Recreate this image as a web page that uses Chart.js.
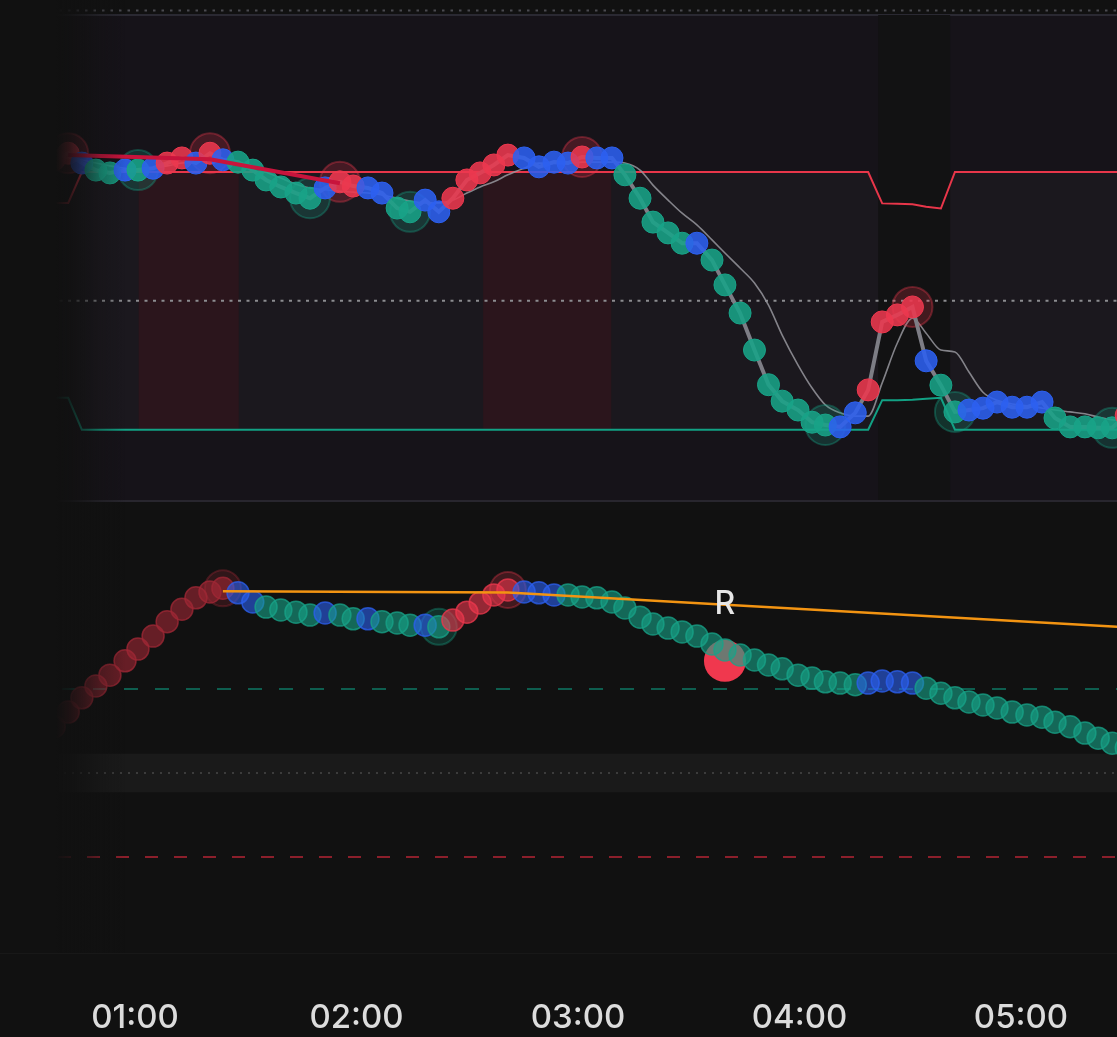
<!DOCTYPE html>
<html>
<head>
<meta charset="utf-8">
<script src="https://cdn.jsdelivr.net/npm/chart.js@4.4.0/dist/chart.umd.min.js"></script>
<style>
  html, body { margin: 0; padding: 0; background: #111111; }
  #wrap { position: relative; width: 1117px; height: 1037px; overflow: hidden; }
  #top_chart { position: absolute; left: 0; top: 0; }
  #bottom_chart { position: absolute; left: 0; top: 500px; }
  /* left edge fade, like the app does */
  #fade { position: absolute; left: 0; top: 0; width: 140px; height: 953px; z-index: 2;
    background: linear-gradient(to right, #111111 0px, #111111 56px, rgba(17,17,17,0.88) 68px,
      rgba(17,17,17,0.65) 82px, rgba(17,17,17,0.3) 100px, rgba(17,17,17,0) 125px); }
</style>
</head>
<body>
<div id="wrap">
  <canvas id="top_chart" width="1117" height="500"></canvas>
  <canvas id="bottom_chart" width="1117" height="537"></canvas>
  <div id="fade"></div>
</div>
<script>
//Bar times (minutes after 00:00)
var times = [38.1, 41.9, 45.6, 49.4, 53.2, 57.3, 60.8, 64.9, 68.7, 72.7,
  76.5, 80.3, 83.8, 87.9, 91.9, 95.5, 99.5, 103.6, 107.4, 111.5,
  115.5, 119.1, 123.1, 126.9, 131.0, 134.5, 138.6, 142.3, 146.1, 149.9,
  153.5, 157.2, 161.0, 165.4, 169.4, 173.5, 177.3, 181.1, 185.1, 189.2,
  192.7, 196.8, 200.3, 204.4, 208.2, 212.2, 216.3, 219.8, 223.9, 227.8,
  231.6, 235.3, 239.6, 243.4, 247.0, 251.0, 255.1, 258.6, 262.4, 266.5,
  270.6, 274.3, 278.3, 282.1, 285.9, 289.7, 293.5, 297.6, 301.6, 305.7,
  309.2, 313.3, 317.3, 320.9, 324.7, 328.5];
var hour_ticks = [60, 120, 180, 240, 300];

//Upper pane
var main_values = [72.6, 74.0, 71.9, 70.4, 69.8, 70.4, 70.4, 70.8, 71.9, 73.0,
  71.9, 74.0, 72.6, 72.1, 70.4, 68.3, 66.8, 65.5, 64.4, 66.6,
  67.9, 67.0, 66.6, 65.5, 62.3, 61.5, 64.0, 61.5, 64.4, 68.3,
  69.8, 71.5, 73.6, 73.0, 71.1, 72.1, 71.9, 73.2, 73.0, 73.0,
  69.4, 64.4, 59.3, 57.0, 54.8, 54.8, 51.2, 45.9, 39.9, 32.0,
  24.6, 21.1, 19.2, 16.6, 16.0, 15.6, 18.6, 23.5, 38.0, 39.5,
  41.2, 29.7, 24.5, 18.8, 19.2, 19.6, 20.9, 19.8, 19.8, 20.9,
  17.5, 15.6, 15.6, 15.4, 15.4, 18.1];
// r = rising, g = falling, b = flat
var main_trend = "rrbggbgbrr brbggggggb rrbbggbbrr rrrbbbbrbb gggggbgggg gggggbbrrr rbggbbbbbb gggggr".split(" ").join("").split("");
var signal_values = [72.6, 73.0, 72.6, 71.9, 71.3, 70.8, 70.6, 70.8, 71.3, 71.9,
  72.1, 72.6, 72.6, 72.1, 71.3, 70.0, 68.7, 67.4, 66.6, 66.2,
  65.9, 65.7, 65.5, 65.1, 64.4, 63.8, 63.4, 63.4, 64.0, 65.5,
  66.8, 67.9, 69.4, 70.8, 71.9, 71.9, 71.9, 72.1, 72.1, 72.1,
  71.9, 70.4, 67.2, 64.0, 61.2, 58.7, 55.5, 52.7, 49.5, 46.3,
  41.6, 35.2, 28.8, 23.9, 20.3, 18.6, 17.9, 17.9, 25.0, 33.5,
  38.8, 35.6, 32.0, 31.6, 27.3, 23.0, 21.3, 20.5, 20.1, 19.6,
  19.2, 18.8, 18.4, 17.7, 17.1, 16.9];
var limit_times = [38.1, 41.9, 45.6, 258.6, 262.4, 266.5, 270.6, 274.3, 278.3, 282.1, 328.5];
var upper_limit = [63.4, 63.4, 70, 70, 63.3, 63.2, 63.1, 62.6, 62.2, 70, 70];
var lower_limit = [21.8, 21.8, 15, 15, 21.3, 21.3, 21.4, 21.6, 21.8, 15, 15];
var midline = 42.5;
var hot_zones = [[61.0, 88.1], [154.3, 189.0]];
var quiet_zone = [261.3, 280.8];
var pivot_highs = [1, 11, 20, 37, 60];
var pivot_lows = [6, 18, 25, 54, 63, 74];
var trend_times = [41.9, 80.3, 115.5];
var trend_values = [73.6, 72.7, 67.6];

//Lower pane (oscillator)
var osc_values = [11.0, 14.5, 17.9, 20.7, 23.3, 26.7, 29.5, 32.6, 36.0, 39.0,
  41.7, 43.1, 44.0, 42.9, 40.7, 39.5, 38.8, 38.3, 37.6, 38.1,
  37.6, 36.7, 36.7, 36.0, 35.7, 35.2, 35.2, 34.8, 36.4, 38.3,
  40.5, 42.4, 43.6, 43.1, 42.9, 42.4, 42.4, 41.9, 41.7, 40.7,
  39.3, 37.1, 35.5, 34.5, 33.6, 32.6, 30.7, 29.3, 28.1, 26.9,
  25.7, 24.8, 23.3, 22.6, 21.7, 21.4, 21.0, 21.4, 21.9, 21.7,
  21.4, 20.2, 19.0, 17.9, 16.9, 16.2, 15.5, 14.5, 13.8, 13.3,
  12.1, 11.0, 9.5, 8.3, 7.1, 6.0];
// d = weak rising
var osc_trend = "dddddddddd dddbbggggb ggbgggbgrr rrrbbbgggg gggggggggg gggggggbbb bggggggggg gggggg".split(" ").join("").split("");
var osc_pivots = [12, 27, 32];
var osc_levels = [20, 0, -20];
var neutral_band = [-4.6, 4.6];
var res_times = [83.8, 161.0, 330];
var res_values = [43.3, 43.0, 34.6];
var sig_times = [219.8];
var sig_values = [26.7];
var sig_labels = ["R"];

var x_min = 23.43;
var x_max = 326.0;

var dot_rgb = { r: "236,56,78", g: "24,163,136", b: "44,96,240", d: "160,40,54" };

function rgba(k, a) {
  return "rgba(" + dot_rgb[k] + "," + a + ")";
}

function pts(xs, ys) {
  return xs.map(function (x, i) { return { x: x, y: ys[i] }; });
}

function pick(idx, vals) {
  return idx.map(function (i) { return { x: times[i], y: vals[i] }; });
}

function hline(c, a, y, color, dash) {
  c.strokeStyle = color;
  c.lineWidth = 2;
  c.setLineDash(dash);
  c.beginPath();
  c.moveTo(a.left, y);
  c.lineTo(a.right, y);
  c.stroke();
}

var upper_pane = {
  id: "upper_pane",
  beforeDraw: function (chart) {
    var c = chart.ctx, a = chart.chartArea;
    c.save();
    c.fillStyle = "#161319";
    c.fillRect(a.left, a.top, a.right - a.left, a.bottom - a.top);
    c.fillStyle = "#2a2932";
    c.fillRect(a.left, a.top - 1, a.right - a.left, 2);
    hline(c, a, a.top - 4.5, "#4a4a50", [2.5, 6]);
    c.restore();
  },
  beforeDatasetsDraw: function (chart) {
    var c = chart.ctx, a = chart.chartArea, xs = chart.scales.x, ys = chart.scales.y;
    var top = ys.getPixelForValue(Math.max.apply(null, upper_limit));
    var bot = ys.getPixelForValue(Math.min.apply(null, lower_limit));
    c.save();
    c.fillStyle = "#2b151c";
    hot_zones.forEach(function (z) {
      var x0 = xs.getPixelForValue(z[0]), x1 = xs.getPixelForValue(z[1]);
      c.fillRect(x0, top, x1 - x0, bot - top);
    });
    var q0 = xs.getPixelForValue(quiet_zone[0]), q1 = xs.getPixelForValue(quiet_zone[1]);
    c.fillStyle = "#121213";
    c.fillRect(q0, a.top, q1 - q0, a.bottom - a.top);
    hline(c, a, ys.getPixelForValue(midline), "#8c8c90", [3, 5.5]);
    c.restore();
  }
};

var lower_pane = {
  id: "lower_pane",
  beforeDatasetsDraw: function (chart) {
    var c = chart.ctx, a = chart.chartArea, ys = chart.scales.y;
    c.save();
    c.fillStyle = "#28262e";
    c.fillRect(a.left, 0, a.right - a.left, 2);
    var b0 = ys.getPixelForValue(neutral_band[1]), b1 = ys.getPixelForValue(neutral_band[0]);
    c.fillStyle = "#1a1a1a";
    c.fillRect(a.left, b0, a.right - a.left, b1 - b0);
    hline(c, a, ys.getPixelForValue(osc_levels[0]), "#0e5e4f", [14, 17]);
    hline(c, a, ys.getPixelForValue(osc_levels[1]), "#3c3c3c", [2, 6]);
    hline(c, a, ys.getPixelForValue(osc_levels[2]), "#8c1f2b", [13, 16]);
    c.fillStyle = "#181818";
    c.fillRect(a.left, a.bottom, a.right - a.left, 1);
    c.restore();
  },
  afterDatasetsDraw: function (chart) {
    var c = chart.ctx, xs = chart.scales.x, ys = chart.scales.y;
    c.save();
    c.font = "500 32px Inter, 'Liberation Sans', sans-serif";
    c.fillStyle = "#e6e6e6";
    c.textAlign = "center";
    c.textBaseline = "alphabetic";
    sig_labels.forEach(function (txt, i) {
      c.fillText(txt, xs.getPixelForValue(sig_times[i]), ys.getPixelForValue(sig_values[i]) - 47);
    });
    c.restore();
  }
};

var ctx;

ctx = document.getElementById("top_chart").getContext("2d");
var upper_chart = new Chart(ctx, {
  type: "line",
  data: {
    datasets: [{
      data: pts(limit_times, upper_limit),
      borderColor: "#e8364a",
      borderWidth: 2,
      pointRadius: 0,
      fill: "+1",
      backgroundColor: "rgba(255,255,255,0.022)",
      order: 6,
    }, {
      data: pts(limit_times, lower_limit),
      borderColor: "#12a184",
      borderWidth: 2,
      pointRadius: 0,
      fill: false,
      order: 5,
    }, {
      data: pts(times, signal_values),
      borderColor: "rgba(150,150,158,0.85)",
      borderWidth: 1.6,
      pointRadius: 0,
      cubicInterpolationMode: "monotone",
      fill: false,
      order: 4,
    }, {
      data: pick(pivot_highs, main_values).concat(pick(pivot_lows, main_values)),
      showLine: false,
      pointRadius: 20,
      pointBackgroundColor: pivot_highs.concat(pivot_lows).map(function (i) { return rgba(main_trend[i], 0.22); }),
      pointBorderColor: pivot_highs.concat(pivot_lows).map(function (i) { return rgba(main_trend[i], 0.35); }),
      pointBorderWidth: 2,
      order: 3,
    }, {
      data: pts(times, main_values),
      borderColor: "#7d7d85",
      borderWidth: 4,
      tension: 0,
      fill: false,
      pointRadius: 11,
      pointBackgroundColor: main_trend.map(function (k) { return rgba(k, 0.88); }),
      pointBorderColor: main_trend.map(function (k) { return rgba(k, 1); }),
      pointBorderWidth: 1,
      order: 2,
    }, {
      data: pts(trend_times, trend_values),
      borderColor: "#c8143c",
      borderWidth: 4,
      pointRadius: 0,
      fill: false,
      order: 1,
    }]
  },
  options: {
    responsive: false,
    animation: false,
    events: [],
    layout: {
      autoPadding: false,
      padding: { top: 15 }
    },
    plugins: {
      legend: { display: false },
      tooltip: { enabled: false },
      filler: { drawTime: "beforeDatasetsDraw" }
    },
    scales: {
      x: { type: "linear", display: false, min: x_min, max: x_max },
      y: { display: false, min: 0, max: 103.5 }
    }
  },
  plugins: [upper_pane]
});

ctx = document.getElementById("bottom_chart").getContext("2d");
var lower_chart = new Chart(ctx, {
  type: "line",
  data: {
    datasets: [{
      data: pts(res_times, res_values),
      borderColor: "#f39412",
      borderWidth: 2.5,
      pointRadius: 0,
      fill: false,
      order: 1,
    }, {
      data: pts(times, osc_values),
      showLine: false,
      pointRadius: 11,
      pointBackgroundColor: osc_trend.map(function (k) { return rgba(k, 0.6); }),
      pointBorderColor: osc_trend.map(function (k) { return rgba(k, 0.75); }),
      pointBorderWidth: 1.5,
      order: 2,
    }, {
      data: pick(osc_pivots, osc_values),
      showLine: false,
      pointRadius: 18,
      pointBackgroundColor: osc_pivots.map(function (i) { return rgba(osc_trend[i], 0.22); }),
      pointBorderColor: osc_pivots.map(function (i) { return rgba(osc_trend[i], 0.35); }),
      pointBorderWidth: 2,
      order: 3,
    }, {
      data: pts(sig_times, sig_values),
      showLine: false,
      pointRadius: 21,
      pointBackgroundColor: "#f0384e",
      pointBorderWidth: 0,
      order: 4,
    }]
  },
  options: {
    responsive: false,
    animation: false,
    events: [],
    layout: {
      autoPadding: false,
      padding: 0
    },
    plugins: {
      legend: { display: false },
      tooltip: { enabled: false }
    },
    scales: {
      x: {
        type: "linear",
        min: x_min,
        max: x_max,
        grid: { display: false, drawTicks: false },
        border: { display: false },
        afterBuildTicks: function (s) {
          s.ticks = hour_ticks.map(function (v) { return { value: v }; });
        },
        ticks: {
          autoSkip: false,
          maxRotation: 0,
          padding: 45,
          color: "#dcdcdc",
          font: { family: "Inter, 'Liberation Sans', sans-serif", size: 33, weight: "500" },
          callback: function (v) {
            var h = Math.floor(v / 60), m = Math.round(v % 60);
            return (h < 10 ? "0" : "") + h + ":" + (m < 10 ? "0" : "") + m;
          }
        },
        afterFit: function (s) { s.height = 84; }
      },
      y: { display: false, min: -42.857, max: 65 }
    }
  },
  plugins: [lower_pane]
});
</script>
</body>
</html>
